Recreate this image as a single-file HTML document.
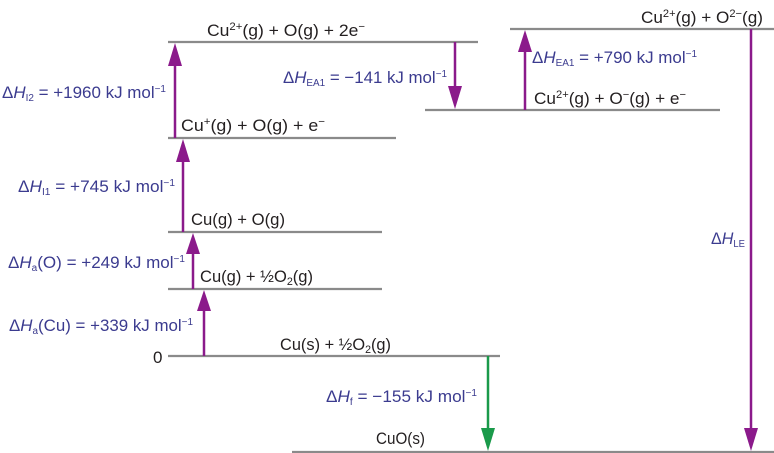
<!DOCTYPE html>
<html><head><meta charset="utf-8"><style>
html,body{margin:0;padding:0;background:#fff;}
svg{display:block;}
text{font-family:"Liberation Sans",sans-serif;font-size:17px;}
.s{fill:#231f20;}
.l{fill:#3b3b8f;}
</style></head><body>
<svg width="774" height="453" viewBox="0 0 774 453" xmlns="http://www.w3.org/2000/svg">
<g stroke="#8a8a8a" stroke-width="2.2">
<line x1="168" y1="42" x2="478" y2="42"/>
<line x1="510" y1="29" x2="774" y2="29"/>
<line x1="425" y1="110" x2="720" y2="110"/>
<line x1="168" y1="138" x2="396" y2="138"/>
<line x1="168" y1="232" x2="382" y2="232"/>
<line x1="168" y1="289" x2="382" y2="289"/>
<line x1="168" y1="356" x2="500" y2="356"/>
<line x1="292" y1="452" x2="774" y2="452"/>
</g>
<g stroke="#8b1a8b" stroke-width="2.5" fill="#8b1a8b">
<line x1="175" y1="138" x2="175" y2="60"/><polygon stroke="none" points="175,43 168,66 182,66"/>
<line x1="183" y1="232" x2="183" y2="155"/><polygon stroke="none" points="183,139 176,162 190,162"/>
<line x1="193" y1="289" x2="193" y2="250"/><polygon stroke="none" points="193,233 186,254 200,254"/>
<line x1="204" y1="356" x2="204" y2="305"/><polygon stroke="none" points="204,290 197,311 211,311"/>
<line x1="455" y1="42" x2="455" y2="92"/><polygon stroke="none" points="455,109 448,86 462,86"/>
<line x1="525" y1="110" x2="525" y2="46"/><polygon stroke="none" points="525,30 518,52 532,52"/>
<line x1="751" y1="29" x2="751" y2="432"/><polygon stroke="none" points="751,451 744,428 758,428"/>
</g>
<g stroke="#1a9a4a" stroke-width="2.5" fill="#1a9a4a">
<line x1="488" y1="356" x2="488" y2="432"/><polygon stroke="none" points="488,451 481,428 495,428"/>
</g>
<text class="s" x="207" y="36" textLength="158" lengthAdjust="spacingAndGlyphs">Cu<tspan font-size="11" dy="-6">2+</tspan><tspan dy="6">(g) + O(g) + 2e</tspan><tspan font-size="11" dy="-6">−</tspan></text>
<text class="l" x="2" y="98" textLength="164" lengthAdjust="spacingAndGlyphs">Δ<tspan font-style="italic">H</tspan><tspan font-size="10" dy="3">I2</tspan><tspan dy="-3"> = +1960 kJ mol</tspan><tspan font-size="10" dy="-6">−1</tspan></text>
<text class="s" x="181" y="131" textLength="144" lengthAdjust="spacingAndGlyphs">Cu<tspan font-size="11" dy="-6">+</tspan><tspan dy="6">(g) + O(g) + e</tspan><tspan font-size="11" dy="-6">−</tspan></text>
<text class="l" x="18" y="192" textLength="157" lengthAdjust="spacingAndGlyphs">Δ<tspan font-style="italic">H</tspan><tspan font-size="10" dy="3">I1</tspan><tspan dy="-3"> = +745 kJ mol</tspan><tspan font-size="10" dy="-6">−1</tspan></text>
<text class="s" x="191" y="225" textLength="94" lengthAdjust="spacingAndGlyphs">Cu(g) + O(g)</text>
<text class="l" x="8" y="268" textLength="177" lengthAdjust="spacingAndGlyphs">Δ<tspan font-style="italic">H</tspan><tspan font-size="10" dy="3">a</tspan><tspan dy="-3">(O) = +249 kJ mol</tspan><tspan font-size="10" dy="-6">−1</tspan></text>
<text class="s" x="200" y="282" textLength="113" lengthAdjust="spacingAndGlyphs">Cu(g) + ½O<tspan font-size="11" dy="3">2</tspan><tspan dy="-3">(g)</tspan></text>
<text class="l" x="9" y="331" textLength="184" lengthAdjust="spacingAndGlyphs">Δ<tspan font-style="italic">H</tspan><tspan font-size="10" dy="3">a</tspan><tspan dy="-3">(Cu) = +339 kJ mol</tspan><tspan font-size="10" dy="-6">−1</tspan></text>
<text class="s" x="153" y="363">0</text>
<text class="s" x="280" y="350" textLength="111" lengthAdjust="spacingAndGlyphs">Cu(s) + ½O<tspan font-size="11" dy="3">2</tspan><tspan dy="-3">(g)</tspan></text>
<text class="l" x="326" y="402" textLength="151" lengthAdjust="spacingAndGlyphs">Δ<tspan font-style="italic">H</tspan><tspan font-size="10" dy="3">f</tspan><tspan dy="-3"> = −155 kJ mol</tspan><tspan font-size="10" dy="-6">−1</tspan></text>
<text class="s" x="376" y="444" textLength="49" lengthAdjust="spacingAndGlyphs">CuO(s)</text>
<text class="l" x="283" y="83" textLength="164" lengthAdjust="spacingAndGlyphs">Δ<tspan font-style="italic">H</tspan><tspan font-size="10" dy="3">EA1</tspan><tspan dy="-3"> = −141 kJ mol</tspan><tspan font-size="10" dy="-6">−1</tspan></text>
<text class="l" x="532" y="63" textLength="165" lengthAdjust="spacingAndGlyphs">Δ<tspan font-style="italic">H</tspan><tspan font-size="10" dy="3">EA1</tspan><tspan dy="-3"> = +790 kJ mol</tspan><tspan font-size="10" dy="-6">−1</tspan></text>
<text class="s" x="534" y="104" textLength="152" lengthAdjust="spacingAndGlyphs">Cu<tspan font-size="11" dy="-6">2+</tspan><tspan dy="6">(g) + O</tspan><tspan font-size="11" dy="-6">−</tspan><tspan dy="6">(g) + e</tspan><tspan font-size="11" dy="-6">−</tspan></text>
<text class="s" x="641" y="23" textLength="122" lengthAdjust="spacingAndGlyphs">Cu<tspan font-size="11" dy="-6">2+</tspan><tspan dy="6">(g) + O</tspan><tspan font-size="11" dy="-6">2−</tspan><tspan dy="6">(g)</tspan></text>
<text class="l" x="711" y="244" textLength="34" lengthAdjust="spacingAndGlyphs">Δ<tspan font-style="italic">H</tspan><tspan font-size="10" dy="3">LE</tspan></text>
</svg>
</body></html>
